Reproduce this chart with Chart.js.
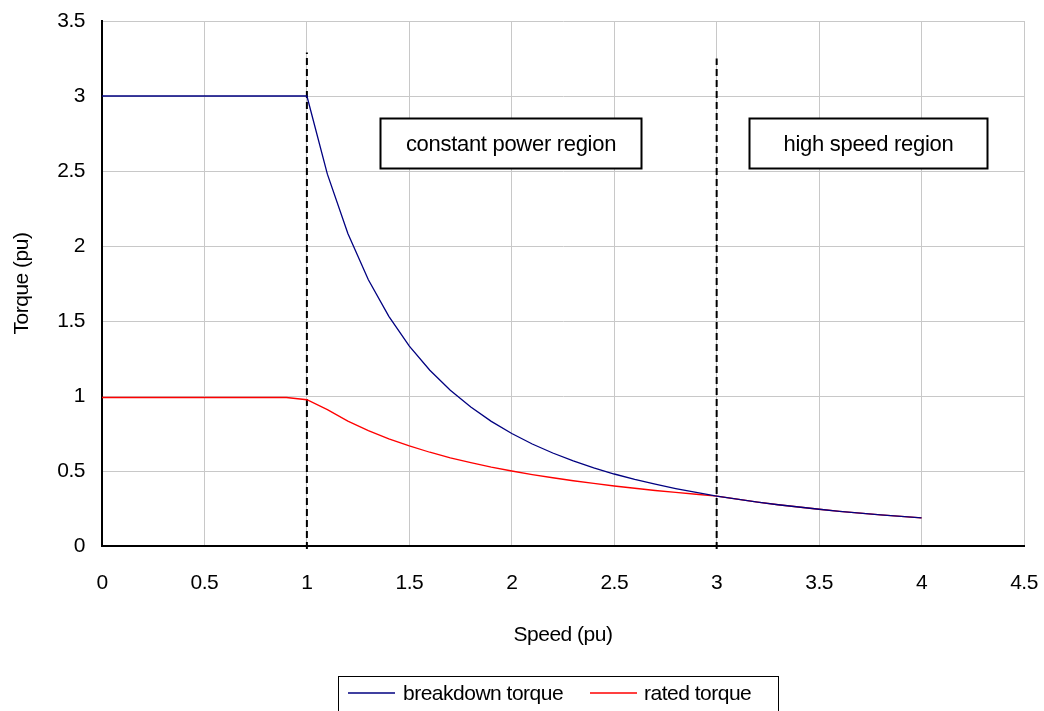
<!DOCTYPE html>
<html>
<head>
<meta charset="utf-8">
<script src="https://cdn.jsdelivr.net/npm/chart.js@4/dist/chart.umd.min.js"></script>
<style>
    html, body { margin: 0; padding: 0; background: #fff; }
    #wrap { width: 1044px; height: 711px; }
</style>
</head>
<body>
<div id="wrap"><canvas id="torque-chart"></canvas></div>
<script>
// speed axis (pu), sampled every 0.1
const speed = [0, 0.1, 0.2, 0.3, 0.4, 0.5, 0.6, 0.7, 0.8, 0.9,
    1.0, 1.1, 1.2, 1.3, 1.4, 1.5, 1.6, 1.7, 1.8, 1.9,
    2.0, 2.1, 2.2, 2.3, 2.4, 2.5, 2.6, 2.7, 2.8, 2.9,
    3.0, 3.1, 3.2, 3.3, 3.4, 3.5, 3.6, 3.7, 3.8, 3.9, 4.0];

const breakdownTorque = [3, 3, 3, 3, 3, 3, 3, 3, 3, 3,
    3, 2.479, 2.083, 1.775, 1.531, 1.333, 1.172, 1.038, 0.926, 0.831,
    0.75, 0.680, 0.620, 0.567, 0.521, 0.48, 0.444, 0.412, 0.383, 0.357,
    0.333, 0.312, 0.293, 0.275, 0.260, 0.245, 0.231, 0.219, 0.208, 0.197, 0.1875];

const ratedTorque = [0.99, 0.99, 0.99, 0.99, 0.99, 0.99, 0.99, 0.99, 0.99, 0.99,
    0.975, 0.909, 0.833, 0.769, 0.714, 0.667, 0.625, 0.588, 0.556, 0.526,
    0.5, 0.476, 0.455, 0.435, 0.417, 0.4, 0.385, 0.370, 0.357, 0.345,
    0.333, 0.312, 0.293, 0.275, 0.260, 0.245, 0.231, 0.219, 0.208, 0.197, 0.1875];

// region boundaries (dashed verticals)
const boundarySpeed = [1, 3];
const boundaryTop = [3.29, 3.25];

const regionLabels = ['constant power region', 'high speed region'];
const regionX = [[1.355, 2.63], [3.16, 4.32]];
const regionY = [2.853, 2.52];

const seriesLabels = ['breakdown torque', 'rated torque'];
const seriesColors = ['#000080', '#ff0000'];

const FONT = '"Liberation Sans", Arial, sans-serif';

const toPoints = (xs, ys) => xs.map((x, i) => ({ x: x, y: ys[i] }));

const boundaryDatasets = boundarySpeed.map((x, i) => ({
    type: 'line',
    label: 'boundary ' + x,
    data: [{ x: x, y: -0.02 }, { x: x, y: boundaryTop[i] }],
    borderColor: '#000',
    borderWidth: 2,
    borderDash: [7, 4],
    pointRadius: 0,
    clip: false,
}));

const extrasPlugin = {
    id: 'extras',
    beforeDraw(chart) {
        chart.ctx.letterSpacing = '-0.5px';
    },
    afterDraw(chart) {
        const { ctx, scales: { x, y } } = chart;
        ctx.save();
        ctx.setLineDash([]);
        // region boxes
        ctx.font = '22px ' + FONT;
        ctx.letterSpacing = '-0.3px';
        ctx.textAlign = 'center';
        ctx.textBaseline = 'middle';
        regionLabels.forEach((text, i) => {
            const l = Math.round(x.getPixelForValue(regionX[i][0])) + 0.5;
            const r = Math.round(x.getPixelForValue(regionX[i][1])) + 0.5;
            const t = Math.round(y.getPixelForValue(regionY[0])) + 0.5;
            const b = Math.round(y.getPixelForValue(regionY[1])) + 0.5;
            ctx.fillStyle = '#fff';
            ctx.fillRect(l, t, r - l, b - t);
            ctx.strokeStyle = '#000';
            ctx.lineWidth = 2;
            ctx.strokeRect(l, t, r - l, b - t);
            ctx.fillStyle = '#000';
            ctx.fillText(text, (l + r) / 2, (t + b) / 2 + 1);
        });

        // legend box
        const lx = 338, ly = 676, lw = 440, lh = 40;
        ctx.strokeStyle = '#000';
        ctx.lineWidth = 1;
        ctx.strokeRect(lx + 0.5, ly + 0.5, lw, lh);
        ctx.font = '21px ' + FONT;
        ctx.letterSpacing = '-0.5px';
        ctx.textAlign = 'left';
        const items = [[348, 403], [590, 644]];
        seriesLabels.forEach((label, i) => {
            ctx.strokeStyle = seriesColors[i];
            ctx.lineWidth = 1.5;
            ctx.beginPath();
            ctx.moveTo(items[i][0], 693);
            ctx.lineTo(items[i][0] + 47, 693);
            ctx.stroke();
            ctx.fillStyle = '#000';
            ctx.fillText(label, items[i][1], 694);
        });
        ctx.restore();
    }
};

new Chart(document.getElementById('torque-chart'), {
    type: 'line',
    plugins: [extrasPlugin],
    data: {
        datasets: [
            {
                label: seriesLabels[0],
                data: toPoints(speed, breakdownTorque),
                borderColor: seriesColors[0],
                borderWidth: 1.3,
                pointRadius: 0,
            }, {
                label: seriesLabels[1],
                data: toPoints(speed, ratedTorque),
                borderColor: seriesColors[1],
                borderWidth: 1.3,
                pointRadius: 0,
            },
            ...boundaryDatasets
        ]
    },
    options: {
        responsive: true,
        maintainAspectRatio: false,
        animation: false,
        events: [],
        layout: { padding: { left: 0, right: 0, top: 21, bottom: 45 } },
        plugins: {
            legend: { display: false },
            tooltip: { enabled: false },
        },
        scales: {
            x: {
                type: 'linear',
                min: 0,
                max: 4.5,
                ticks: {
                    stepSize: 0.5,
                    color: '#000',
                    font: { family: FONT, size: 21 },
                    padding: 25,
                    maxRotation: 0,
                    callback: (value) => String(value),
                },
                grid: { color: '#c8c8c8', drawTicks: false },
                border: { color: '#000', width: 2 },
                title: {
                    display: true,
                    text: 'Speed (pu)',
                    color: '#000',
                    font: { family: FONT, size: 21 },
                    padding: { top: 0, bottom: 18 },
                },
                afterFit: (scale) => {
                    scale.height = 120;
                    scale.paddingLeft = 0;
                    scale.paddingRight = 20;
                },
            },
            y: {
                min: 0,
                max: 3.5,
                ticks: {
                    stepSize: 0.5,
                    color: '#000',
                    font: { family: FONT, size: 21 },
                    padding: 17,
                    callback: (value) => String(value),
                },
                grid: { color: '#c8c8c8', drawTicks: false },
                border: { color: '#000', width: 2 },
                title: {
                    display: true,
                    text: 'Torque (pu)',
                    color: '#000',
                    font: { family: FONT, size: 21 },
                    padding: { top: 10, bottom: 0 },
                },
                afterFit: (scale) => {
                    scale.width = 102;
                    scale.paddingTop = 0;
                    scale.paddingBottom = 0;
                },
            }
        }
    }
});
</script>
</body>
</html>
